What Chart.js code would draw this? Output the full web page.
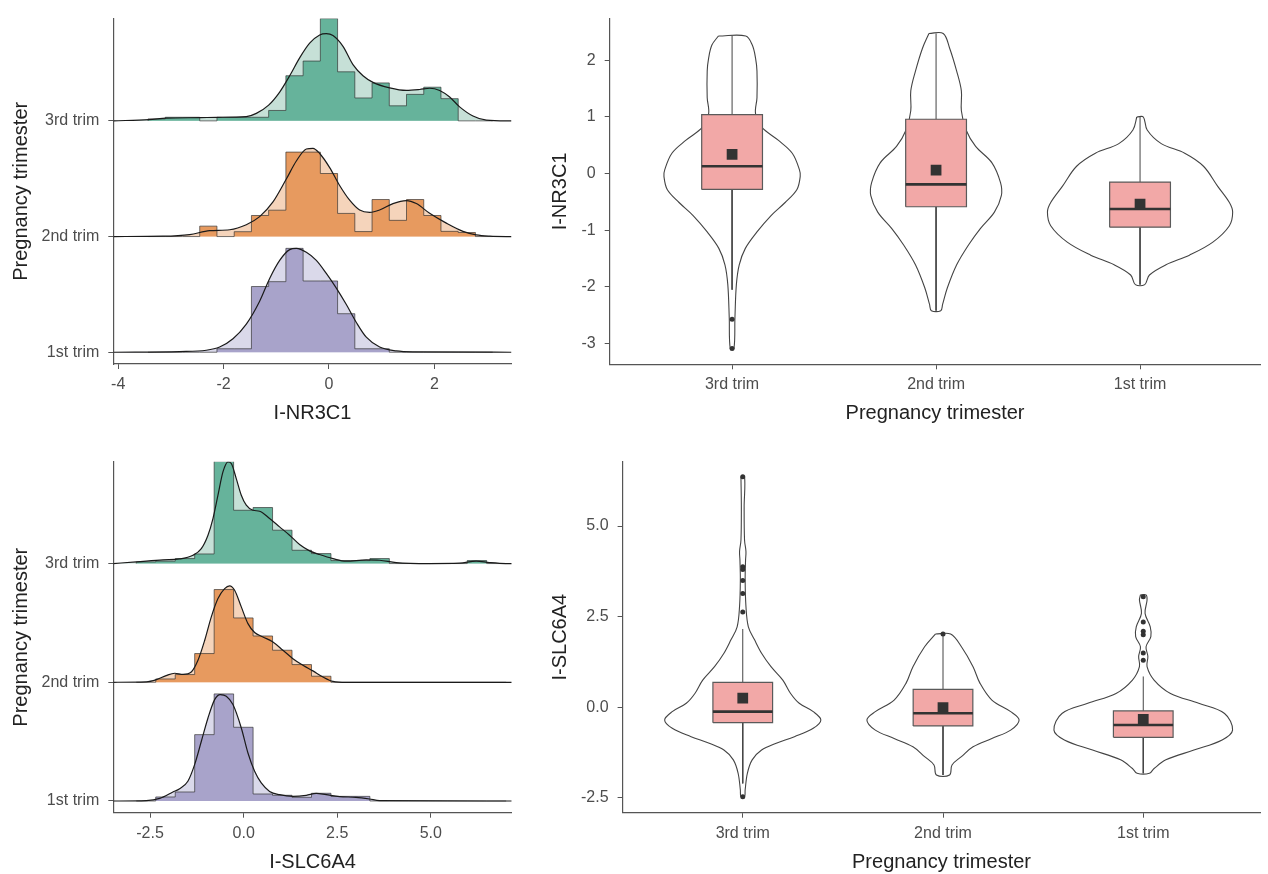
<!DOCTYPE html>
<html>
<head>
<meta charset="utf-8">
<title>I-NR3C1 / I-SLC6A4 by pregnancy trimester</title>
<script src="https://cdn.jsdelivr.net/npm/chart.js"></script>
<style>
  body { margin: 0; background: #fff; overflow: hidden; }
  canvas { position: absolute; }
</style>
</head>
<body>
<canvas id="ridgeTop" width="520" height="440" style="left:0;top:0"></canvas>
<canvas id="violinTop" width="748" height="440" style="left:520px;top:0"></canvas>
<canvas id="ridgeBottom" width="520" height="434" style="left:0;top:440px"></canvas>
<canvas id="violinBottom" width="748" height="434" style="left:520px;top:440px"></canvas>
<script>
// categories
const trimesters = ['1st trim', '2nd trim', '3rd trim'];   // ridge rows, bottom -> top
const ridgeBase = [0, 1, 2];
const violinOrder = ['3rd trim', '2nd trim', '1st trim']; // violin x positions 1,2,3
const violinPos = [1, 2, 3];

// tick values
const nr3c1Ticks = [-4, -2, 0, 2];
const slc6a4Ticks = [-2.5, 0, 2.5, 5];
const nr3c1ViolinTicks = [-3, -2, -1, 0, 1, 2];
const slc6a4ViolinTicks = [-2.5, 0, 2.5, 5];

// ---- I-NR3C1 histograms (bin edges shared, heights in ridge units) ----
const nr3c1Edges = [-3.434, -3.107, -2.78, -2.453, -2.126, -1.799, -1.472, -1.145, -0.818, -0.491, -0.164,
  0.163, 0.49, 0.817, 1.144, 1.471, 1.798, 2.125, 2.452, 2.779, 3.106];
const nr3c1Hist3rd = [0.017, 0.031, 0.031, 0, 0.031, 0.031, 0.031, 0.09, 0.39, 0.517, 0.884, 0.424, 0.198, 0.328, 0.13, 0.229, 0.291, 0.192, 0, 0];
const nr3c1Hist2nd = [0, 0, 0, 0.09, 0, 0.042, 0.182, 0.228, 0.73, 0.73, 0.545, 0.2, 0.043, 0.32, 0.14, 0.32, 0.182, 0.045, 0.035, 0];
const nr3c1Hist1st = [0, 0, 0, 0, 0.03, 0.03, 0.568, 0.61, 0.898, 0.616, 0.616, 0.333, 0.03, 0.03, 0, 0, 0, 0, 0, 0];

// I-NR3C1 density curves
const nr3c1Dens3rdX = [-4.09, -3.416, -3.087, -2.441, -2.119, -1.569, -1.379, -1.145, -0.936, -0.746, -0.557, -0.367, -0.177, -0.051, 0.076,
  0.266, 0.455, 0.645, 0.835, 1.151, 1.467, 1.72, 1.91, 2.1, 2.29, 2.479, 2.732, 2.985, 3.365, 3.46];
const nr3c1Dens3rdH = [0, 0.011, 0.023, 0.028, 0.031, 0.037, 0.065, 0.136, 0.249, 0.39, 0.545, 0.672, 0.743, 0.754, 0.737,
  0.644, 0.486, 0.39, 0.333, 0.285, 0.263, 0.271, 0.282, 0.263, 0.206, 0.121, 0.042, 0.006, 0, 0];
const nr3c1Dens2ndX = [-4.09, -3.15, -2.644, -2.264, -1.885, -1.569, -1.316, -1.063, -0.81, -0.62, -0.43, -0.304, -0.177, 0.013, 0.202,
  0.392, 0.582, 0.772, 0.961, 1.214, 1.467, 1.657, 1.91, 2.226, 2.543, 2.796, 3.049, 3.365, 3.46];
const nr3c1Dens2ndH = [0, 0.003, 0.017, 0.051, 0.059, 0.102, 0.172, 0.299, 0.497, 0.653, 0.757, 0.763, 0.718, 0.596, 0.441,
  0.314, 0.229, 0.209, 0.229, 0.285, 0.311, 0.285, 0.201, 0.116, 0.045, 0.014, 0.003, 0, 0];
const nr3c1Dens1stX = [-4.09, -2.834, -2.328, -2.075, -1.822, -1.569, -1.316, -1.126, -0.936, -0.746, -0.62, -0.43, -0.24, -0.051, 0.139,
  0.329, 0.519, 0.708, 0.961, 1.278, 1.594, 3.46];
const nr3c1Dens1stH = [0, 0.006, 0.017, 0.045, 0.116, 0.243, 0.441, 0.638, 0.794, 0.887, 0.898, 0.864, 0.794, 0.681, 0.554,
  0.412, 0.257, 0.13, 0.045, 0.011, 0.003, 0];

// ---- I-SLC6A4 histograms ----
const slc6a4Edges = [-2.868, -2.348, -1.828, -1.308, -0.788, -0.268, 0.252, 0.772, 1.292, 1.812, 2.332, 2.852, 3.372,
  3.892, 4.412, 4.932, 5.452, 5.972, 6.492, 7.012];
const slc6a4Hist3rd = [0.014, 0.02, 0.042, 0.081, 0.862, 0.449, 0.472, 0.281, 0.112, 0.084, 0.025, 0.025, 0.042, 0, 0, 0, 0, 0.025, 0];
const slc6a4Hist2nd = [0, 0.028, 0.065, 0.242, 0.781, 0.542, 0.39, 0.27, 0.149, 0.051, 0, 0, 0, 0, 0, 0, 0, 0, 0];
const slc6a4Hist1st = [0, 0.034, 0.076, 0.559, 0.902, 0.621, 0.059, 0.048, 0.031, 0.065, 0.039, 0.039, 0, 0, 0, 0, 0, 0, 0];

// I-SLC6A4 density curves
const slc6a4Dens3rdX = [-3.482, -2.868, -2.155, -1.71, -1.354, -1.131, -0.953, -0.82, -0.686, -0.553, -0.419, -0.33, -0.197, -0.063, 0.07,
  0.248, 0.426, 0.693, 0.96, 1.227, 1.494, 1.761, 2.028, 2.384, 2.74, 3.274, 3.63, 4.075, 4.965, 5.766, 6.211, 6.567, 7.012, 7.16];
const slc6a4Dens3rdH = [0, 0.014, 0.031, 0.039, 0.07, 0.126, 0.239, 0.379, 0.576, 0.772, 0.857, 0.843, 0.716, 0.576, 0.492,
  0.449, 0.441, 0.379, 0.309, 0.239, 0.16, 0.107, 0.076, 0.042, 0.02, 0.031, 0.028, 0.008, 0, 0.003, 0.02, 0.008, 0, 0];
const slc6a4Dens2ndX = [-3.482, -2.6, -2.33, -2.07, -1.84, -1.62, -1.4, -1.22, -1.04, -0.864, -0.686, -0.508, -0.375, -0.241, -0.063,
  0.115, 0.293, 0.515, 0.782, 1.049, 1.316, 1.583, 1.85, 2.117, 2.384, 2.74, 7.16];
const slc6a4Dens2ndH = [0, 0.003, 0.022, 0.056, 0.076, 0.067, 0.087, 0.185, 0.354, 0.551, 0.705, 0.789, 0.812, 0.775, 0.635,
  0.494, 0.419, 0.382, 0.34, 0.27, 0.199, 0.143, 0.096, 0.045, 0.008, 0, 0];
const slc6a4Dens1stX = [-3.482, -2.6, -2.24, -1.89, -1.71, -1.49, -1.31, -1.13, -0.953, -0.775, -0.624, -0.464, -0.286, -0.063, 0.115,
  0.293, 0.47, 0.693, 0.96, 1.316, 1.672, 1.939, 2.206, 2.562, 3.0, 3.36, 3.63, 7.16];
const slc6a4Dens1stH = [0, 0.003, 0.022, 0.076, 0.104, 0.166, 0.306, 0.503, 0.699, 0.854, 0.896, 0.882, 0.812, 0.615, 0.404,
  0.25, 0.152, 0.081, 0.053, 0.039, 0.048, 0.065, 0.053, 0.037, 0.031, 0.017, 0.003, 0];

// ---- I-NR3C1 violins: values (top -> bottom) and half widths ----
const nr3c1Viol3rdV = [2.43, 2.27, 2.04, 1.81, 1.34, 1.06, 0.82, 0.59, 0.36, 0.07, -0.05, -0.28, -0.51, -0.74, -1.03, -1.32, -1.61, -1.96, -2.54, -3.09];
const nr3c1Viol3rdW = [0.067, 0.099, 0.115, 0.122, 0.122, 0.115, 0.145, 0.226, 0.295, 0.33, 0.334, 0.318, 0.26, 0.191, 0.122, 0.065, 0.035, 0.021, 0.014, 0.009];
const nr3c1Viol2ndV = [2.475, 2.21, 1.81, 1.46, 1.11, 0.77, 0.48, 0.19, -0.16, -0.39, -0.68, -0.97, -1.26, -1.61, -2.02, -2.31, -2.42];
const nr3c1Viol2ndW = [0.035, 0.067, 0.101, 0.124, 0.124, 0.147, 0.194, 0.274, 0.316, 0.32, 0.286, 0.217, 0.159, 0.101, 0.055, 0.032, 0.023];
const nr3c1Viol1stV = [1.0, 0.77, 0.53, 0.36, 0.13, -0.22, -0.51, -0.68, -0.92, -1.21, -1.44, -1.61, -1.79, -1.96];
const nr3c1Viol1stW = [0.016, 0.035, 0.104, 0.219, 0.311, 0.38, 0.438, 0.454, 0.438, 0.357, 0.242, 0.127, 0.046, 0.023];
// box stats in violinOrder
const nr3c1Q1 = [-0.28, -0.585, -0.945];
const nr3c1Median = [0.13, -0.19, -0.626];
const nr3c1Q3 = [1.04, 0.96, -0.15];
const nr3c1Mean = [0.34, 0.06, -0.54];
const nr3c1WhiskLo = [-2.05, -2.42, -1.96];
const nr3c1WhiskHi = [2.43, 2.475, 1.0];
const nr3c1Outliers = [[-2.57, -3.09], [], []];

// ---- I-SLC6A4 violins ----
const slc6a4Viol3rdV = [6.36, 5.53, 4.61, 4.3, 4.06, 3.51, 2.78, 2.22, 1.86, 1.49, 1.12, 0.75, 0.38, 0.11, -0.12, -0.35, -0.58, -0.81, -1.0, -1.18, -1.45, -1.82, -2.28, -2.47];
const slc6a4Viol3rdW = [0.009, 0.007, 0.009, 0.016, 0.014, 0.012, 0.016, 0.028, 0.059, 0.094, 0.141, 0.2, 0.239, 0.282, 0.352, 0.39, 0.352, 0.258, 0.164, 0.094, 0.047, 0.023, 0.012, 0.009];
const slc6a4Viol2ndV = [2.02, 1.67, 1.12, 0.66, 0.2, -0.12, -0.35, -0.63, -0.86, -1.09, -1.36, -1.59, -1.87];
const slc6a4Viol2ndW = [0.038, 0.092, 0.15, 0.185, 0.244, 0.338, 0.38, 0.338, 0.244, 0.15, 0.092, 0.045, 0.033];
const slc6a4Viol1stV = [3.1, 2.96, 2.59, 2.22, 1.95, 1.67, 1.4, 1.12, 0.75, 0.38, 0.11, -0.17, -0.63, -0.9, -1.18, -1.45, -1.69, -1.82];
const slc6a4Viol1stW = [0.014, 0.019, 0.009, 0.035, 0.038, 0.014, 0.023, 0.019, 0.054, 0.136, 0.277, 0.406, 0.446, 0.394, 0.253, 0.113, 0.054, 0.031];
const slc6a4Q1 = [-0.425, -0.515, -0.83];
const slc6a4Median = [-0.12, -0.165, -0.49];
const slc6a4Q3 = [0.69, 0.495, -0.1];
const slc6a4Mean = [0.25, -0.01, -0.33];
const slc6a4WhiskLo = [-2.1, -1.87, -1.82];
const slc6a4WhiskHi = [2.16, 2.0, 0.85];
const slc6a4Outliers = [[6.36, 3.88, 3.8, 3.5, 3.14, 2.63, -2.47], [2.02], [3.05, 2.35, 2.1, 2.0, 1.5, 1.3]];

// colours: 1st, 2nd, 3rd
const histColors = ['#a8a3ca', '#e79a5f', '#66b39b'];
const densColors = ['#dad9ea', '#f5d4bb', '#c6e0d7'];

Chart.defaults.font.family = "'Liberation Sans', Arial, sans-serif";
const axisColor = '#555';
const tickColor = '#4d4d4d';
const titleColor = '#222';

function line(points, extra) {
  return Object.assign({data: points, showLine: true, pointRadius: 0, fill: false, tension: 0}, extra);
}

function ridgeSets(edges, hist, dx, dh, base, k) {
  const histPts = [{x: edges[0], y: base}];
  hist.forEach((h, i) => histPts.push({x: edges[i], y: base + h}));
  histPts.push({x: edges[edges.length - 1], y: base});
  const dens = () => dx.map((x, i) => ({x: x, y: base + dh[i]}));
  const o = (3 - base) * 10;
  return [
    line(dens(), {fill: {value: base}, backgroundColor: densColors[k], borderColor: 'rgba(0,0,0,0)', borderWidth: 1, cubicInterpolationMode: 'monotone', order: o + 3}),
    line(histPts, {stepped: true, fill: {value: base}, backgroundColor: histColors[k], borderColor: 'rgba(45,45,45,0.65)', borderWidth: 1, order: o + 2}),
    line(dens(), {borderColor: '#1a1a1a', borderWidth: 1.2, cubicInterpolationMode: 'monotone', order: o + 1})
  ];
}

function violinSets(i, vals, widths, q1, med, q3, mean, lo, hi, outl) {
  const c = violinPos[i];
  const bw = 0.149;
  const outline = [{x: c - widths[0], y: vals[0]}];
  vals.forEach((v, j) => outline.push({x: c + widths[j], y: v}));
  for (let j = vals.length - 1; j >= 0; j--) outline.push({x: c - widths[j], y: vals[j]});
  return [
    line(outline, {borderColor: '#444', borderWidth: 1.1, tension: 0.35, order: 60}),
    line([{x: c, y: q3[i]}, {x: c, y: hi[i]}], {borderColor: '#444', borderWidth: 1, order: 50}),
    line([{x: c, y: q1[i]}, {x: c, y: lo[i]}], {borderColor: '#444', borderWidth: 1, order: 50}),
    line([{x: c - bw, y: q1[i]}, {x: c + bw, y: q1[i]}, {x: c + bw, y: q3[i]}, {x: c - bw, y: q3[i]}, {x: c - bw, y: q1[i]}],
      {fill: 'shape', backgroundColor: '#f2a8a7', borderColor: '#5a5a5a', borderWidth: 1.2, order: 40}),
    line([{x: c - bw, y: med[i]}, {x: c + bw, y: med[i]}], {borderColor: '#333', borderWidth: 2.6, order: 30}),
    {data: [{x: c, y: mean[i]}], showLine: false, pointStyle: 'rect', pointRadius: 7.6, backgroundColor: '#333', borderColor: '#333', borderWidth: 0, order: 20},
    {data: outl[i].map(v => ({x: c, y: v})), showLine: false, pointStyle: 'circle', pointRadius: 2.5, backgroundColor: '#333', borderColor: '#333', borderWidth: 0, order: 10}
  ];
}

function xAxis(min, max, ticks, fmt, title, height, titlePad) {
  return {
    type: 'linear', min: min, max: max,
    afterBuildTicks: s => { s.ticks = ticks.map(v => ({value: v})); },
    afterFit: s => { s.height = height; },
    grid: {drawOnChartArea: false, drawTicks: true, tickLength: 5, color: axisColor},
    border: {color: axisColor, width: 1.2},
    ticks: {color: tickColor, font: {size: 16}, padding: 6, autoSkip: false, maxRotation: 0, callback: fmt},
    title: {display: true, text: title, color: titleColor, font: {size: 20}, padding: {top: 0, bottom: titlePad}}
  };
}

function yAxis(min, max, ticks, fmt, title, width, titlePad) {
  return {
    type: 'linear', min: min, max: max,
    afterBuildTicks: s => { s.ticks = ticks.map(v => ({value: v})); },
    afterFit: s => { s.width = width; },
    grid: {drawOnChartArea: false, drawTicks: true, tickLength: 5, color: axisColor},
    border: {color: axisColor, width: 1.2},
    ticks: {color: tickColor, font: {size: 16}, padding: 9, autoSkip: false, callback: fmt},
    title: {display: true, text: title, color: titleColor, font: {size: 20}, padding: {top: titlePad, bottom: 0}}
  };
}

function makeChart(id, datasets, scales, padding) {
  new Chart(document.getElementById(id), {
    type: 'scatter',
    data: {datasets: datasets},
    options: {
      responsive: false, animation: false, events: [],
      layout: {padding: padding},
      plugins: {legend: {display: false}, tooltip: {enabled: false}},
      scales: scales
    }
  });
}

const trimLabel = v => trimesters[v];
const violLabel = v => violinOrder[v - 1];
const intLabel = v => String(v);
const oneDec = v => v.toFixed(1);

// top-left ridges
makeChart('ridgeTop',
  [].concat(
    ridgeSets(nr3c1Edges, nr3c1Hist3rd, nr3c1Dens3rdX, nr3c1Dens3rdH, 2, 2),
    ridgeSets(nr3c1Edges, nr3c1Hist2nd, nr3c1Dens2ndX, nr3c1Dens2ndH, 1, 1),
    ridgeSets(nr3c1Edges, nr3c1Hist1st, nr3c1Dens1stX, nr3c1Dens1stH, 0, 0)),
  {x: xAxis(-4.093, 3.467, nr3c1Ticks, intLabel, 'I-NR3C1', 76, 15),
   y: yAxis(-0.1017, 2.884, ridgeBase, trimLabel, 'Pregnancy trimester', 113.3, 9.5)},
  {top: 12, right: 8.3, left: 0, bottom: 0});

// top-right violins
makeChart('violinTop',
  [].concat(
    violinSets(0, nr3c1Viol3rdV, nr3c1Viol3rdW, nr3c1Q1, nr3c1Median, nr3c1Q3, nr3c1Mean, nr3c1WhiskLo, nr3c1WhiskHi, nr3c1Outliers),
    violinSets(1, nr3c1Viol2ndV, nr3c1Viol2ndW, nr3c1Q1, nr3c1Median, nr3c1Q3, nr3c1Mean, nr3c1WhiskLo, nr3c1WhiskHi, nr3c1Outliers),
    violinSets(2, nr3c1Viol1stV, nr3c1Viol1stW, nr3c1Q1, nr3c1Median, nr3c1Q3, nr3c1Mean, nr3c1WhiskLo, nr3c1WhiskHi, nr3c1Outliers)),
  {x: xAxis(0.4, 3.59, violinPos, violLabel, 'Pregnancy trimester', 75.7, 15),
   y: yAxis(-3.367, 2.737, nr3c1ViolinTicks, intLabel, 'I-NR3C1', 89.7, 28.5)},
  {top: 13.3, right: 0, left: 0, bottom: 0});

// bottom-left ridges
makeChart('ridgeBottom',
  [].concat(
    ridgeSets(slc6a4Edges, slc6a4Hist3rd, slc6a4Dens3rdX, slc6a4Dens3rdH, 2, 2),
    ridgeSets(slc6a4Edges, slc6a4Hist2nd, slc6a4Dens2ndX, slc6a4Dens2ndH, 1, 1),
    ridgeSets(slc6a4Edges, slc6a4Hist1st, slc6a4Dens1stX, slc6a4Dens1stH, 0, 0)),
  {x: xAxis(-3.482, 7.16, slc6a4Ticks, oneDec, 'I-SLC6A4', 61.3, 0),
   y: yAxis(-0.0986, 2.858, ridgeBase, trimLabel, 'Pregnancy trimester', 113.3, 9.5)},
  {top: 21.7, right: 8.3, left: 0, bottom: 0});

// bottom-right violins
makeChart('violinBottom',
  [].concat(
    violinSets(0, slc6a4Viol3rdV, slc6a4Viol3rdW, slc6a4Q1, slc6a4Median, slc6a4Q3, slc6a4Mean, slc6a4WhiskLo, slc6a4WhiskHi, slc6a4Outliers),
    violinSets(1, slc6a4Viol2ndV, slc6a4Viol2ndW, slc6a4Q1, slc6a4Median, slc6a4Q3, slc6a4Mean, slc6a4WhiskLo, slc6a4WhiskHi, slc6a4Outliers),
    violinSets(2, slc6a4Viol1stV, slc6a4Viol1stW, slc6a4Q1, slc6a4Median, slc6a4Q3, slc6a4Mean, slc6a4WhiskLo, slc6a4WhiskHi, slc6a4Outliers)),
  {x: xAxis(0.4, 3.585, violinPos, violLabel, 'Pregnancy trimester', 61.3, 0),
   y: yAxis(-2.908, 6.775, slc6a4ViolinTicks, oneDec, 'I-SLC6A4', 102.6, 28.5)},
  {top: 21.7, right: 0, left: 0, bottom: 0});
</script>
</body>
</html>
